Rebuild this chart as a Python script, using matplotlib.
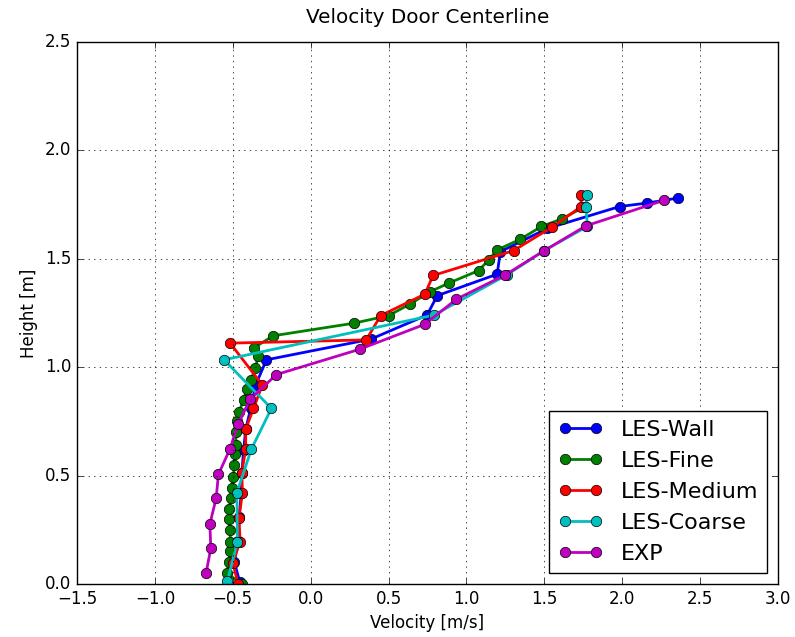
import matplotlib
matplotlib.use('Agg')
import matplotlib.pyplot as plt

plt.style.use('classic')

# LES-Wall
wall_v = [-0.456, -0.49, -0.465, -0.46, -0.445, -0.442, -0.43, -0.417, -0.385, -0.353, -0.284,
          0.385, 0.748, 0.812, 1.197, 1.218, 1.52, 1.983, 2.158, 2.355]
wall_h = [0.01, 0.103, 0.2, 0.31, 0.42, 0.514, 0.62, 0.714, 0.81, 0.918, 1.034,
          1.129, 1.241, 1.33, 1.429, 1.533, 1.64, 1.741, 1.757, 1.78]

# LES-Fine
fine_v = [-0.44, -0.54, -0.525, -0.515, -0.515, -0.517, -0.524, -0.524, -0.513, -0.508, -0.496,
          -0.49, -0.485, -0.48, -0.48, -0.47, -0.46, -0.43, -0.41, -0.385, -0.355, -0.338, -0.363,
          -0.24, 0.278, 0.50, 0.637, 0.769, 0.887, 1.079, 1.143, 1.197, 1.346, 1.481, 1.613, 1.76]
fine_h = [0.0, 0.05, 0.10, 0.15, 0.195, 0.25, 0.30, 0.345, 0.395, 0.445, 0.495,
          0.55, 0.60, 0.64, 0.70, 0.75, 0.795, 0.85, 0.90, 0.94, 0.995, 1.05, 1.09,
          1.145, 1.203, 1.238, 1.291, 1.349, 1.388, 1.446, 1.495, 1.541, 1.59, 1.649, 1.684, 1.741]

# LES-Medium
med_v = [-0.466, -0.50, -0.453, -0.46, -0.438, -0.442, -0.417, -0.417, -0.367, -0.31, -0.517,
         0.357, 0.449, 0.733, 0.786, 1.303, 1.549, 1.737, 1.737]
med_h = [0.0, 0.098, 0.195, 0.306, 0.421, 0.514, 0.623, 0.714, 0.81, 0.918, 1.111,
         1.126, 1.238, 1.337, 1.423, 1.538, 1.646, 1.741, 1.795]

# LES-Coarse
coarse_v = [-0.534, -0.47, -0.474, -0.38, -0.252, -0.556, 0.79, 1.26, 1.50, 1.777, 1.767, 1.774]
coarse_h = [0.014, 0.195, 0.421, 0.623, 0.81, 1.034, 1.24, 1.426, 1.538, 1.65, 1.741, 1.795]

# EXP
exp_v = [-0.671, -0.641, -0.647, -0.607, -0.592, -0.519, -0.466, -0.389, -0.22, 0.316,
         0.733, 0.936, 1.25, 1.50, 1.767, 2.265]
exp_h = [0.052, 0.165, 0.277, 0.395, 0.506, 0.621, 0.737, 0.852, 0.966, 1.083,
         1.198, 1.314, 1.426, 1.538, 1.652, 1.769]

fig = plt.figure(figsize=(7.95, 6.37), dpi=100, facecolor='white')
ax = fig.add_axes([77/795, 1 - 584/637, 701/795, 542/637])

style = dict(linewidth=2, marker='o', markersize=7.5, markeredgecolor='k', markeredgewidth=0.5)
ax.plot(wall_v, wall_h, color='b', label='LES-Wall', **style)
ax.plot(fine_v, fine_h, color='g', label='LES-Fine', **style)
ax.plot(med_v, med_h, color='r', label='LES-Medium', **style)
ax.plot(coarse_v, coarse_h, color='c', label='LES-Coarse', **style)
ax.plot(exp_v, exp_h, color='m', label='EXP', **style)

ax.set_xlim(-1.5, 3.0)
ax.set_ylim(0, 2.5)
ax.grid(True)
ax.set_title('Velocity Door Centerline', fontsize=14.4, pad=14)
ax.set_xlabel('Velocity [m/s]')
ax.set_ylabel('Height [m]')
ax.legend(loc='lower right', numpoints=2, fontsize=16)

fig.savefig('out.png', dpi=100, facecolor='white')
